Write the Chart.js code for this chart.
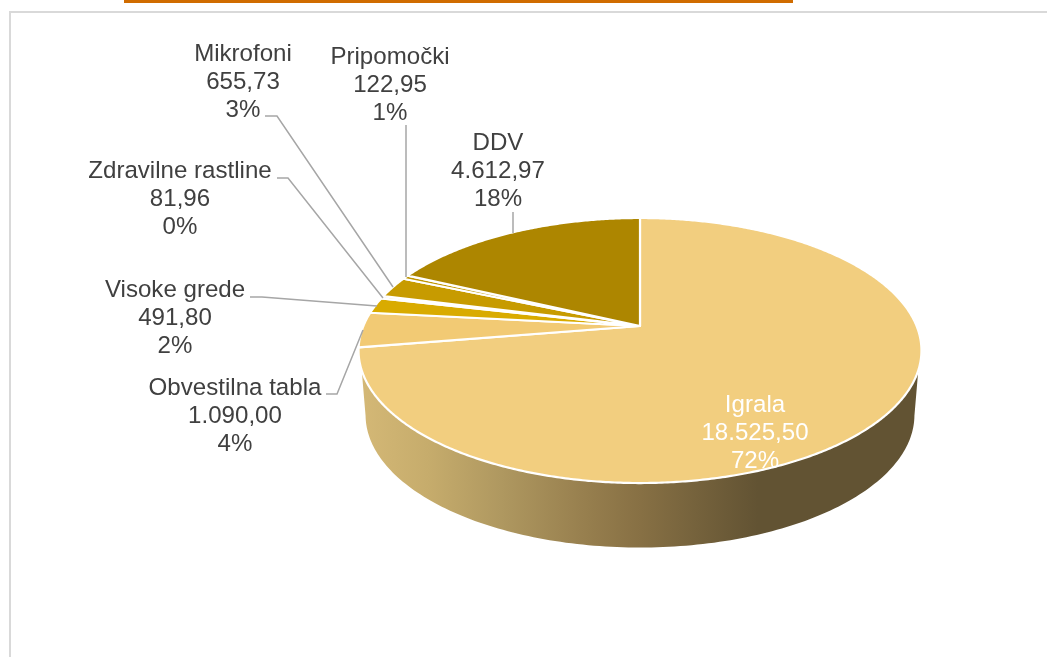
<!DOCTYPE html>
<html><head><meta charset="utf-8">
<script src="https://cdn.jsdelivr.net/npm/chart.js@4"></script>
<style>
html,body{margin:0;padding:0;background:#fff;overflow:hidden}
#wrap{position:relative;width:1047px;height:657px}
#bar{position:absolute;left:124px;top:0;width:669px;height:3px;background:#D06C00}
#frameT{position:absolute;left:9px;top:11px;right:0;height:2px;background:#D9D9D9}
#frameL{position:absolute;left:9px;top:11px;bottom:0;width:2px;background:#D9D9D9}
canvas{position:absolute;left:0;top:0}
</style></head><body>
<div id="wrap"><div id="bar"></div><div id="frameT"></div><div id="frameL"></div>
<canvas id="c" width="1047" height="657"></canvas></div>
<script>
const categories = ["Igrala","Obvestilna tabla","Visoke grede","Zdravilne rastline","Mikrofoni","Pripomočki","DDV"];
const values = [18525.50,1090.00,491.80,81.96,655.73,122.95,4612.97];
const percentLabels = ["72%","4%","2%","0%","3%","1%","18%"];
const sliceColors = ["#F2CE7F","#F2CA74","#D9AB00","#E8C050","#C79B00","#BF9500","#AD8600"];

// layout of the data labels: centre x, y of first line, colour, leader polyline
const labelLayout = [
  {x:755,y:405,color:"#FFFFFF",leader:null},
  {x:235,y:388,color:"#404040",leader:[[326,394],[337,394],[363,330]]},
  {x:175,y:290,color:"#404040",leader:[[250,297],[262,297],[377,306]]},
  {x:180,y:171,color:"#404040",leader:[[277,178],[288,178],[383,298]]},
  {x:243,y:54,color:"#404040",leader:[[265,116],[277,116],[393,287]]},
  {x:390,y:57,color:"#404040",leader:[[406,125],[406,277]]},
  {x:498,y:143,color:"#404040",leader:[[513,212],[513,233]]}
];
const LINE_H = 28, FONT = '24.1px "Liberation Sans", Arial, sans-serif';
const PERSP = 0.1849, KX = 2.161, DEPTH = 64.5, LOWER_KX = 2.107;

function fmt(v){
  const [i,d] = v.toFixed(2).split(".");
  return i.replace(/\B(?=(\d{3})+$)/g,".") + "," + d;
}
// project a point of the disc (radius fraction rho, clockwise angle from top) to the page
function proj(el, rho, th, drop, kx){
  const u = rho*Math.sin(th), v = -rho*Math.cos(th), w = 1 - PERSP*v, r = el.outerRadius;
  return [el.x + r*kx*u/w, el.y + drop + r*v/w];
}
const perspectivePie = {
  id:"perspectivePie",
  beforeDatasetDraw(chart){
    const ctx = chart.ctx, arcs = chart.getDatasetMeta(0).data, el = arcs[0];
    // side wall
    const deg = Math.PI/180;
    const g = ctx.createLinearGradient(361,0,920,0);
    [[0,"#D4B876"],[0.12,"#C6AC6C"],[0.25,"#AF9860"],[0.40,"#977F4E"],[0.50,"#877044"],[0.60,"#75623C"],[0.71,"#625333"],[1,"#625333"]]
      .forEach(s=>g.addColorStop(s[0],s[1]));
    ctx.save();
    ctx.beginPath();
    for(let t=109;t<=251;t+=1){const p=proj(el,1,t*deg,0,KX);t===109?ctx.moveTo(p[0],p[1]):ctx.lineTo(p[0],p[1]);}
    for(let t=259;t>=101;t-=1){const p=proj(el,1,t*deg,DEPTH,LOWER_KX);ctx.lineTo(p[0],p[1]);}
    ctx.closePath();
    ctx.fillStyle=g;ctx.fill();
    // slices, from each arc element's own angles
    arcs.forEach((a,i)=>{
      const s=a.startAngle+Math.PI/2, e=a.endAngle+Math.PI/2, n=Math.max(2,Math.ceil((e-s)/(deg/2)));
      ctx.beginPath();ctx.moveTo(a.x,a.y);
      for(let k=0;k<=n;k++){const p=proj(a,1,s+(e-s)*k/n,0,KX);ctx.lineTo(p[0],p[1]);}
      ctx.closePath();
      ctx.fillStyle=sliceColors[i];ctx.fill();
      ctx.lineWidth=2.2;ctx.strokeStyle="#FFFFFF";ctx.lineJoin="round";ctx.stroke();
    });
    ctx.restore();
    return false;
  },
  afterDatasetsDraw(chart){
    const ctx=chart.ctx;
    ctx.save();
    ctx.font=FONT;ctx.textAlign="center";ctx.textBaseline="middle";
    labelLayout.forEach((l,i)=>{
      if(l.leader){
        ctx.beginPath();
        l.leader.forEach((p,k)=>k?ctx.lineTo(p[0],p[1]):ctx.moveTo(p[0],p[1]));
        ctx.strokeStyle="#A6A6A6";ctx.lineWidth=1.5;ctx.stroke();
      }
      ctx.fillStyle=l.color;
      [categories[i],fmt(values[i]),percentLabels[i]].forEach((t,k)=>ctx.fillText(t,l.x,l.y+k*LINE_H));
    });
    ctx.restore();
  }
};
new Chart(document.getElementById("c"),{
  type:"pie",
  data:{labels:categories,datasets:[{data:values,backgroundColor:sliceColors,borderColor:"#FFFFFF",borderWidth:0}]},
  options:{
    responsive:false,animation:false,
    layout:{padding:{left:512,right:279,top:198,bottom:203}},
    plugins:{legend:{display:false},tooltip:{enabled:false},title:{display:false}}
  },
  plugins:[perspectivePie]
});
</script>
</body></html>
